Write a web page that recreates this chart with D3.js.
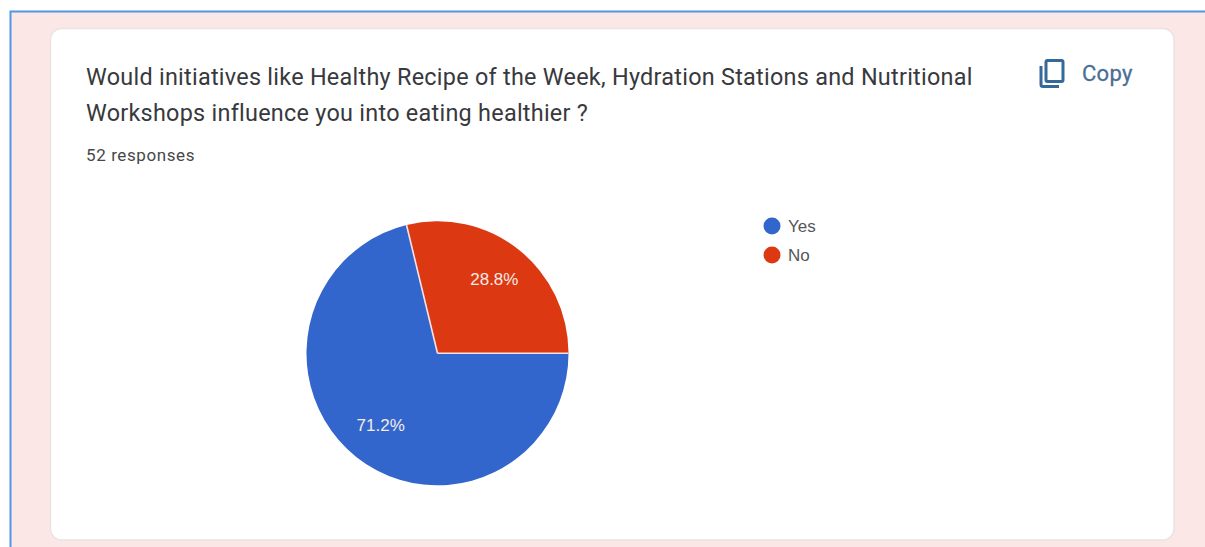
<!DOCTYPE html>
<html><head><meta charset="utf-8">
<script src="https://cdn.jsdelivr.net/npm/d3@7/dist/d3.min.js"></script>
<style>html,body{margin:0;padding:0;background:#fff;overflow:hidden}svg{display:block}</style>
</head><body><svg id="c" width="1205" height="547"></svg>
<script>
const categories = ["Yes", "No"];
const percentages = [71.2, 28.8];
const sliceColors = ["#3366cc", "#dc3912"];
const titleLines = ["Would initiatives like Healthy Recipe of the Week, Hydration Stations and Nutritional", "Workshops influence you into eating healthier ?"];
const subtitle = "52 responses";
const copyLabel = "Copy";

const svg = d3.select("#c");
svg.append("rect").attr("x",10).attr("y",11).attr("width",1195).attr("height",536).attr("fill","#fce7e7");
svg.append("path").attr("d","M10.5 547V11.5H1205").attr("fill","none").attr("stroke","#5098e2").attr("stroke-width",2);
svg.append("rect").attr("x",50.5).attr("y",28.5).attr("width",1123.5).attr("height",511.5).attr("rx",11).attr("fill","#fff").attr("stroke","#e9e3e1").attr("stroke-width",1.4);

const font = "Roboto, sans-serif";
svg.append("g").selectAll("text").data(titleLines).join("text")
  .attr("x",86).attr("y",(d,i)=>84.5+i*36.5)
  .attr("font-family",font).attr("font-size",23.4).attr("letter-spacing",0.27).attr("fill","#38393c").text(d=>d);
svg.append("text").attr("x",86).attr("y",161).attr("font-family",font).attr("font-size",17).attr("letter-spacing",0.6)
  .attr("fill","#47474a").text(subtitle);
svg.append("text").attr("x",1082).attr("y",81).attr("font-family",font).attr("font-size",22).attr("letter-spacing",0.3)
  .attr("stroke","#4a6f96").attr("stroke-width",0.3).attr("fill","#4a6f96").text(copyLabel);
const icon = svg.append("g").attr("fill","none").attr("stroke","#37689a").attr("stroke-width",3);
icon.append("rect").attr("x",1046).attr("y",60.5).attr("width",17).attr("height",21).attr("rx",1.5);
icon.append("path").attr("d","M1041 66V84.5a2 2 0 0 0 2 2H1059");

const cx = 437.5, cy = 353.3, r = 131;
const pie = d3.pie().sort(null).startAngle(Math.PI/2).endAngle(Math.PI*2.5);
const arc = d3.arc().innerRadius(0).outerRadius(r);
const arcs = pie(percentages);
const g = svg.append("g").attr("transform",`translate(${cx},${cy}) scale(1,1.008)`);
g.selectAll("path").data(arcs).join("path").attr("d",arc).attr("fill",(d,i)=>sliceColors[i]);
g.selectAll("line").data(arcs).join("line")
  .attr("x2",d=>d3.pointRadial(d.startAngle,r)[0]).attr("y2",d=>d3.pointRadial(d.startAngle,r)[1])
  .attr("stroke","#f5e2e4").attr("stroke-width",1.6);
const labelArc = d3.arc().innerRadius(92).outerRadius(92);
g.selectAll("text").data(arcs).join("text")
  .attr("transform",d=>`translate(${labelArc.centroid(d)})`)
  .attr("text-anchor","middle").attr("dy","0.27em")
  .attr("font-family","Liberation Sans, Arial, sans-serif").attr("font-size",17).attr("fill","#f4ece8")
  .text((d,i)=>percentages[i].toFixed(1)+"%");

const legend = svg.append("g").selectAll("g").data(categories).join("g")
  .attr("transform",(d,i)=>`translate(772,${226+i*29})`);
legend.append("circle").attr("r",8.5).attr("fill",(d,i)=>sliceColors[i]);
legend.append("text").attr("x",16).attr("dy","0.36em").attr("font-family","Liberation Sans, Arial, sans-serif")
  .attr("font-size",17).attr("fill","#55565a").text(d=>d);
</script></body></html>
